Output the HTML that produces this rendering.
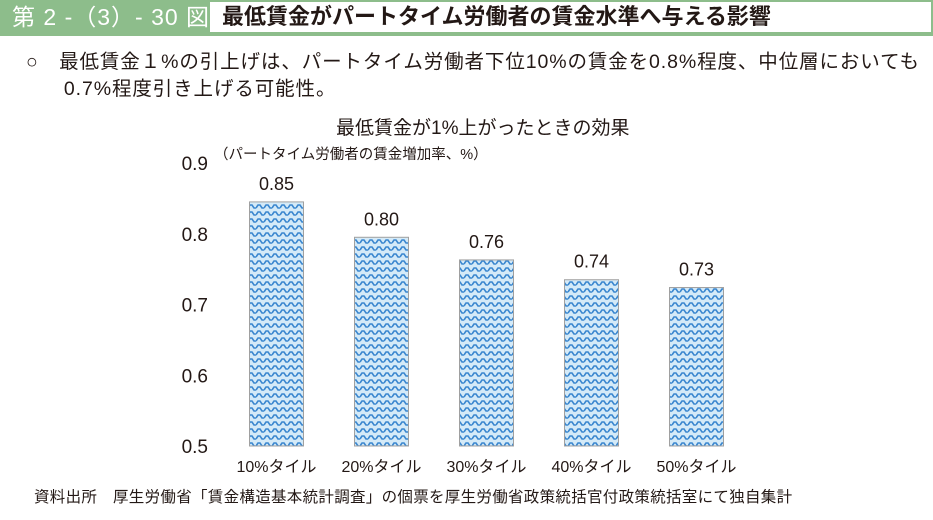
<!DOCTYPE html>
<html><head><meta charset="utf-8"><style>
body{margin:0;width:933px;height:520px;background:#fff;font-family:"Liberation Sans","Noto Sans CJK JP",sans-serif;position:relative;overflow:hidden;color:#231815}
.a{position:absolute;white-space:nowrap}
</style></head><body>
<div class="a" style="left:0;top:0;width:208px;height:34px;background:#8dbd8b;color:#fff;font-size:23px;line-height:34px;padding-left:12px;box-sizing:border-box;letter-spacing:1px">第 2 -（3）- 30 図</div>
<div class="a" style="left:208px;top:0;width:725px;height:34px;border:2px solid #8dbd8b;box-sizing:border-box;font-size:22px;font-weight:bold;line-height:30px;padding-left:12px">最低賃金がパートタイム労働者の賃金水準へ与える影響</div>
<div class="a" style="left:0;top:34px;width:933px;height:2px;background:#8dbd8b"></div>
<div class="a" style="left:26px;top:49px;font-size:19.5px;line-height:27px;letter-spacing:0.9px">○　最低賃金１%の引上げは、パートタイム労働者下位10%の賃金を0.8%程度、中位層においても<br>&nbsp;&nbsp;&nbsp;&nbsp;&nbsp;&nbsp;0.7%程度引き上げる可能性。</div>
<div class="a" style="left:336px;top:113px;font-size:19px">最低賃金が1%上がったときの効果</div>
<div class="a" style="left:214px;top:143px;font-size:14.5px">（パートタイム労働者の賃金増加率、%）</div>
<svg class="a" id="chart" style="left:0;top:0" width="933" height="520">
<defs><pattern id="zz" width="8" height="7" patternUnits="userSpaceOnUse">
<rect width="8" height="7" fill="#d4eaf8"/>
<polyline points="0,5 2,2 4,2 6,5 8,5" fill="none" stroke="#3b87cf" stroke-width="1.6"/>
</pattern></defs>
</svg>
<div class="a" style="left:34px;top:485px;font-size:15.5px;letter-spacing:0.3px">資料出所　厚生労働省「賃金構造基本統計調査」の個票を厚生労働省政策統括官付政策統括室にて独自集計</div>
<script>
const categories=["10%タイル","20%タイル","30%タイル","40%タイル","50%タイル"];
const values=[0.845,0.795,0.763,0.735,0.724];
const labels=["0.85","0.80","0.76","0.74","0.73"];
const ticks=[0.5,0.6,0.7,0.8,0.9];
const svg=document.getElementById('chart');const NS='http://www.w3.org/2000/svg';
const y=v=>446-(v-0.5)*707.5;const x0=224,step=105,bw=54;
function t(tag,a,txt){const e=document.createElementNS(NS,tag);for(const k in a)e.setAttribute(k,a[k]);if(txt!=null)e.textContent=txt;svg.appendChild(e);return e;}
ticks.forEach(v=>{const e=t('text',{x:208,y:y(v)+7,'text-anchor':'end','font-size':19,fill:'#231815'},v.toFixed(1));

});
categories.forEach((c,i)=>{const cx=x0+step*(i+0.5);
const r=t('rect',{x:cx-bw/2,y:y(values[i]),width:bw,height:446-y(values[i]),fill:'url(#zz)',stroke:'#a0a0a0','stroke-width':1});


const l=t('text',{x:cx,y:y(values[i])-12,'text-anchor':'middle','font-size':18,fill:'#231815'},labels[i]);


const xl=t('text',{x:cx,y:472,'text-anchor':'middle','font-size':16,fill:'#231815'},c);

});
</script>
</body></html>
